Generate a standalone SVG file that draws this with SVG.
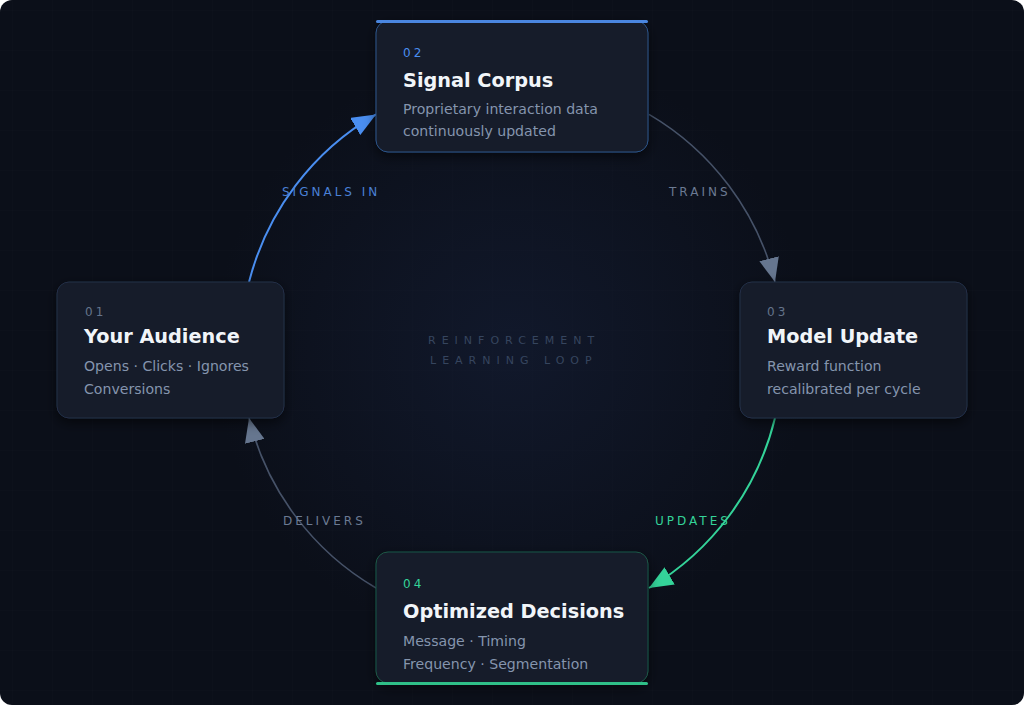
<svg xmlns="http://www.w3.org/2000/svg" width="1024" height="705" viewBox="0 0 1024 705">
  <style>
    .node-box { fill: #141b2a; stroke: #243047; stroke-width: 1; }
    .num { font-family: "DejaVu Sans", sans-serif; font-size: 12px; letter-spacing: 3px; fill: #64748b; }
    .title { font-family: "DejaVu Sans", sans-serif; font-size: 19.3px; font-weight: bold; fill: #f1f5f9; }
    .desc { font-family: "DejaVu Sans", sans-serif; font-size: 14.1px; fill: #8595ae; }
    .edge-label { font-family: "DejaVu Sans", sans-serif; font-size: 12px; letter-spacing: 3px; }
    .center { font-family: "DejaVu Sans", sans-serif; font-size: 11px; letter-spacing: 6px; fill: #36455e; }
  </style>
  <defs>
    <pattern id="grid" width="40" height="40" patternUnits="userSpaceOnUse" x="12" y="10">
      <path d="M40 0 L0 0 0 40" fill="none" stroke="#ffffff" stroke-opacity="0.015" stroke-width="1"/>
    </pattern>
    <radialGradient id="glow" cx="512" cy="350" r="300" gradientUnits="userSpaceOnUse">
      <stop offset="0" stop-color="#16203a" stop-opacity="0.55"/>
      <stop offset="1" stop-color="#16203a" stop-opacity="0"/>
    </radialGradient>
    <filter id="shadow" x="-20%" y="-20%" width="140%" height="150%">
      <feDropShadow dx="0" dy="4" stdDeviation="6" flood-color="#000000" flood-opacity="0.55"/>
    </filter>
    <marker id="arrow-blue" markerUnits="userSpaceOnUse" markerWidth="24" markerHeight="20" refX="24" refY="10" orient="auto">
      <path d="M0 0 L24 10 L0 20 Z" fill="#4a8ef0"/>
    </marker>
    <marker id="arrow-gray" markerUnits="userSpaceOnUse" markerWidth="24" markerHeight="20" refX="24" refY="10" orient="auto">
      <path d="M0 0 L24 10 L0 20 Z" fill="#66768f"/>
    </marker>
    <marker id="arrow-green" markerUnits="userSpaceOnUse" markerWidth="24" markerHeight="20" refX="24" refY="10" orient="auto">
      <path d="M0 0 L24 10 L0 20 Z" fill="#34d399"/>
    </marker>
  </defs>

  <rect x="0" y="0" width="1024" height="705" fill="#ffffff"/>
  <rect x="0" y="0" width="1024" height="705" rx="12" fill="#0b0f19"/>
  <rect x="0" y="0" width="1024" height="705" rx="12" fill="url(#grid)"/>
  <circle cx="512" cy="350" r="300" fill="url(#glow)"/>

  <g id="center-label">
    <text class="center" x="428" y="344">REINFORCEMENT</text>
    <text class="center" x="430" y="364">LEARNING LOOP</text>
  </g>

  <g id="connectors" fill="none">
    <path d="M249 282 A272 272 0 0 1 376 114.4" stroke="#4a8ef0" stroke-width="2" marker-end="url(#arrow-blue)"/>
    <path d="M649 114.4 A272 272 0 0 1 775 282" stroke="#465268" stroke-width="1.6" marker-end="url(#arrow-gray)"/>
    <path d="M775 418 A272 272 0 0 1 649 588" stroke="#34d399" stroke-width="2" marker-end="url(#arrow-green)"/>
    <path d="M376 588 A272 272 0 0 1 249 418" stroke="#465268" stroke-width="1.6" marker-end="url(#arrow-gray)"/>
    <text class="edge-label" x="282" y="196" fill="#4a80d6">SIGNALS IN</text>
    <text class="edge-label" x="669" y="196" fill="#6b7a92">TRAINS</text>
    <text class="edge-label" x="655" y="525" fill="#34d399">UPDATES</text>
    <text class="edge-label" x="283" y="525" fill="#6b7a92">DELIVERS</text>
  </g>

  <g id="node-01">
    <rect class="node-box" x="57" y="282" width="227" height="136" rx="12" filter="url(#shadow)"/>
    <text class="num" x="85" y="316">01</text>
    <text class="title" x="84" y="343">Your Audience</text>
    <text class="desc" x="84" y="371">Opens · Clicks · Ignores</text>
    <text class="desc" x="84" y="393.5">Conversions</text>
  </g>

  <g id="node-02">
    <rect class="node-box" x="376" y="21" width="272" height="131" rx="12" style="stroke:#2d5488" filter="url(#shadow)"/>
    <rect x="376" y="20" width="272" height="3" rx="1.5" fill="#4a86e0"/>
    <text class="num" x="403" y="57" style="fill:#4a8ef0">02</text>
    <text class="title" x="403" y="86.5">Signal Corpus</text>
    <text class="desc" x="403" y="113.5">Proprietary interaction data</text>
    <text class="desc" x="403" y="135.5">continuously updated</text>
  </g>

  <g id="node-03">
    <rect class="node-box" x="740" y="282" width="227" height="136" rx="12" filter="url(#shadow)"/>
    <text class="num" x="767" y="316">03</text>
    <text class="title" x="767" y="343">Model Update</text>
    <text class="desc" x="767" y="371">Reward function</text>
    <text class="desc" x="767" y="393.5">recalibrated per cycle</text>
  </g>

  <g id="node-04">
    <rect class="node-box" x="376" y="552" width="272" height="131" rx="12" style="stroke:#1d5746" filter="url(#shadow)"/>
    <rect x="376" y="682" width="272" height="3" rx="1.5" fill="#2fbf88"/>
    <text class="num" x="403" y="588" style="fill:#34d399">04</text>
    <text class="title" x="403" y="618">Optimized Decisions</text>
    <text class="desc" x="403" y="646">Message · Timing</text>
    <text class="desc" x="403" y="668.5">Frequency · Segmentation</text>
  </g>
</svg>
